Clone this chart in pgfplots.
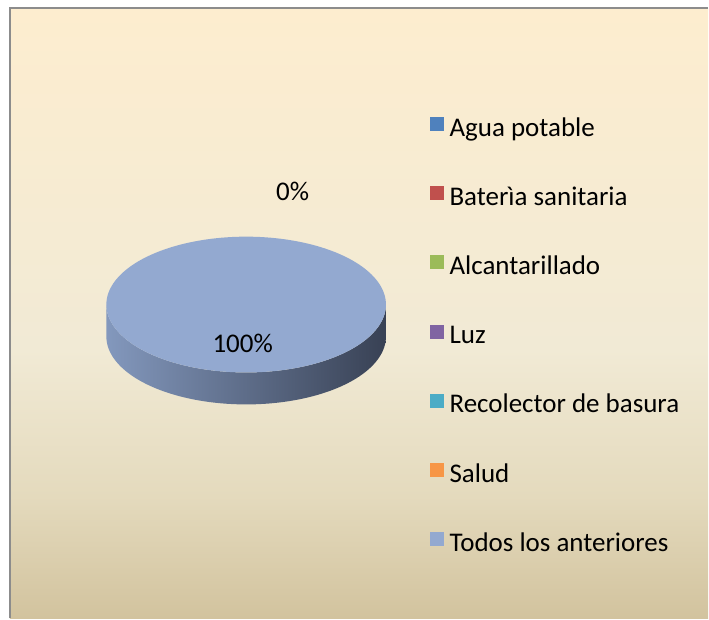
\documentclass[border=0pt]{standalone}
\usepackage{pgfplots}
\pgfplotsset{compat=1.18}
\usepackage{pgfplotstable}
\usepackage{fontspec}
\setmainfont{Carlito}

\definecolor{cAgua}{HTML}{4F81BD}
\definecolor{cBat}{HTML}{C0504D}
\definecolor{cAlc}{HTML}{9BBB59}
\definecolor{cLuz}{HTML}{8064A2}
\definecolor{cRec}{HTML}{4BACC6}
\definecolor{cSal}{HTML}{F79646}
\definecolor{cTod}{HTML}{93A9D0}
\definecolor{sideL}{HTML}{8398BD}
\definecolor{sideM}{HTML}{58667F}
\definecolor{sideR}{HTML}{384154}
\definecolor{bgtop}{HTML}{FDEDCF}
\definecolor{bgmid}{HTML}{F1EAD5}
\definecolor{bgmidb}{HTML}{E4DABD}
\definecolor{bgbot}{HTML}{D2C39E}
\definecolor{frame}{HTML}{8C8C8C}

\pgfdeclareverticalshading{bgshade}{100bp}{color(0bp)=(bgbot); color(25bp)=(bgbot); color(35bp)=(bgmidb); color(47bp)=(bgmid); color(75bp)=(bgtop); color(100bp)=(bgtop)}

% Share of each category (percent)
\pgfplotstableread{
idx value
1 0
2 0
3 0
4 0
5 0
6 0
7 100
}\piedata
\pgfplotstablegetelem{6}{value}\of\piedata
\let\valTodos\pgfplotsretval

\def\cx{246.5}
\def\cy{314}
\def\rx{140}
\def\ry{68}
\def\dd{32}

\begin{document}
\begin{tikzpicture}
\begin{axis}[
  scale only axis, width=709pt, height=619pt,
  xmin=0, xmax=709, ymin=0, ymax=619,
  hide axis, clip=false,
  legend style={at={(axis cs:427,504)}, anchor=north west, draw=none, fill=none,
    font=\fontsize{27}{32}\selectfont, row sep=44.3pt, column sep=6pt,
    nodes={inner sep=0pt, text height=18pt, text depth=6pt}},
  legend cell align=left,
  legend image code/.code={\fill[#1, draw=none] (0pt,-1pt) rectangle (14pt,13pt);},
]
\path (axis cs:0,0) rectangle (axis cs:709,619);
\fill[shading=bgshade] (axis cs:10,0) rectangle (axis cs:709,611);
\draw[frame, line width=2pt] (axis cs:10,0) -- (axis cs:10,611) -- (axis cs:709,611);

% side of the disc (front half)
\addplot[forget plot, draw=none, shade, left color=sideL, middle color=sideM, right color=sideR,
  variable=\t, domain=0:2, samples=201]
  ({\cx+\rx*cos(ifthenelse(\t<=1,180+180*\t,540-180*\t))},
   {\cy+\ry*sin(ifthenelse(\t<=1,180+180*\t,540-180*\t))+ifthenelse(\t<=1,0,-\dd)});
% top face: slice "Todos los anteriores"
\addplot[forget plot, draw=none, fill=cTod, variable=\t, domain=0:{3.6*\valTodos}, samples=181]
  ({\cx+\rx*cos(\t)},{\cy+\ry*sin(\t)});

\node[font=\fontsize{27}{32}\selectfont] at (axis cs:243,275) {100\%};
\node[font=\fontsize{27}{32}\selectfont] at (axis cs:293,427) {0\%};

\addlegendimage{fill=cAgua}\addlegendentry{Agua potable}
\addlegendimage{fill=cBat}\addlegendentry{Baterìa sanitaria}
\addlegendimage{fill=cAlc}\addlegendentry{Alcantarillado}
\addlegendimage{fill=cLuz}\addlegendentry{Luz}
\addlegendimage{fill=cRec}\addlegendentry{Recolector de basura}
\addlegendimage{fill=cSal}\addlegendentry{Salud}
\addlegendimage{fill=cTod}\addlegendentry{Todos los anteriores}
\end{axis}
\end{tikzpicture}
\end{document}
